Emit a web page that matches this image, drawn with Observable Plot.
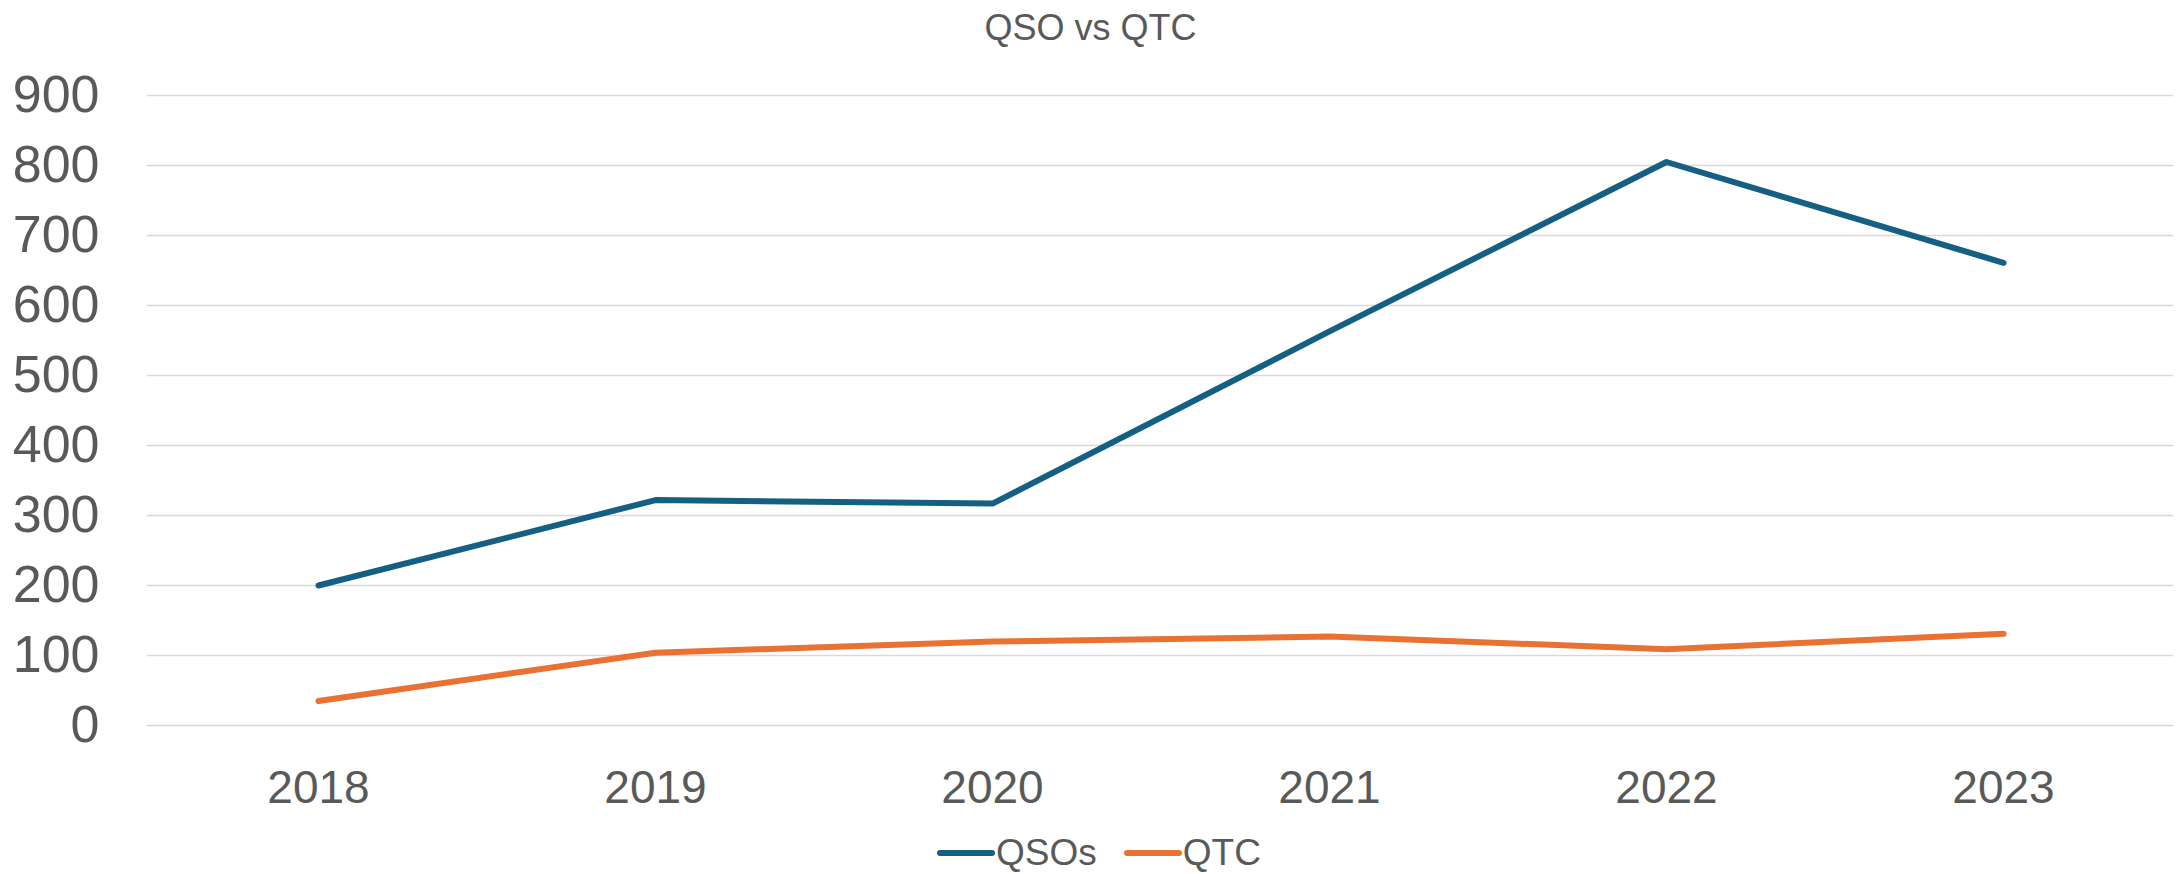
<!DOCTYPE html>
<html>
<head>
<meta charset="utf-8">
<script src="https://cdn.jsdelivr.net/npm/d3@7"></script>
<script src="https://cdn.jsdelivr.net/npm/@observablehq/plot@0.6"></script>
<style>
  html, body { margin: 0; padding: 0; background: #fff; }
  body { width: 2181px; height: 874px; overflow: hidden; font-family: "Liberation Sans", Arial, sans-serif; color: #595959; }
  #title { height: 55px; line-height: 55px; text-align: center; font-size: 36px; color: #595959; }
  #chart svg { display: block; }
  #legend { height: 54px; display: flex; justify-content: center; align-items: center; font-size: 37px; color: #595959; padding-left: 16px; padding-top: 12px; box-sizing: border-box; }
  .item { display: flex; align-items: center; margin: 0 13px; }
  .item svg { display: block; margin-right: 0px; }
</style>
</head>
<body>
<div id="title">QSO vs QTC</div>
<div id="chart"></div>
<div id="legend"></div>
<script>
const years = ["2018", "2019", "2020", "2021", "2022", "2023"];
const qsos = [200, 322, 317, 563, 805, 661];
const qtc = [35, 104, 120, 127, 109, 131];
const seriesNames = ["QSOs", "QTC"];
const seriesColors = ["#156082", "#E97132"];
const yTicks = [0, 100, 200, 300, 400, 500, 600, 700, 800, 900];

const data = [
  ...years.map((y, i) => ({year: y, value: qsos[i], series: seriesNames[0]})),
  ...years.map((y, i) => ({year: y, value: qtc[i], series: seriesNames[1]}))
];

const chart = Plot.plot({
  width: 2181,
  height: 765,
  marginLeft: 147,
  marginRight: 8,
  marginTop: 40,
  marginBottom: 95,
  style: {fontFamily: "Liberation Sans, Arial, sans-serif", color: "#595959", background: "#fff"},
  x: {type: "point", domain: years, padding: 0.5},
  y: {domain: [0, 900], ticks: yTicks},
  color: {domain: seriesNames, range: seriesColors},
  marks: [
    Plot.gridY(yTicks, {stroke: "#D9D9D9", strokeOpacity: 1, strokeWidth: 1.5}),
    Plot.axisY(yTicks, {tickSize: 0, tickPadding: 48, fontSize: 52, fill: "#595959", label: null}),
    Plot.axisX({tickSize: 0, tickPadding: 45, fontSize: 46, fill: "#595959", label: null}),
    Plot.line(data, {x: "year", y: "value", z: "series", stroke: "series", strokeWidth: 6, strokeLinecap: "round", strokeLinejoin: "round"})
  ]
});
document.getElementById("chart").appendChild(chart);

const legend = document.getElementById("legend");
seriesNames.forEach((name, i) => {
  const item = document.createElement("div");
  item.className = "item";
  item.innerHTML = `<svg width="60" height="12"><line x1="4" y1="6" x2="56" y2="6" stroke="${seriesColors[i]}" stroke-width="6" stroke-linecap="round"/></svg><span>${name}</span>`;
  legend.appendChild(item);
});
</script>
</body>
</html>
